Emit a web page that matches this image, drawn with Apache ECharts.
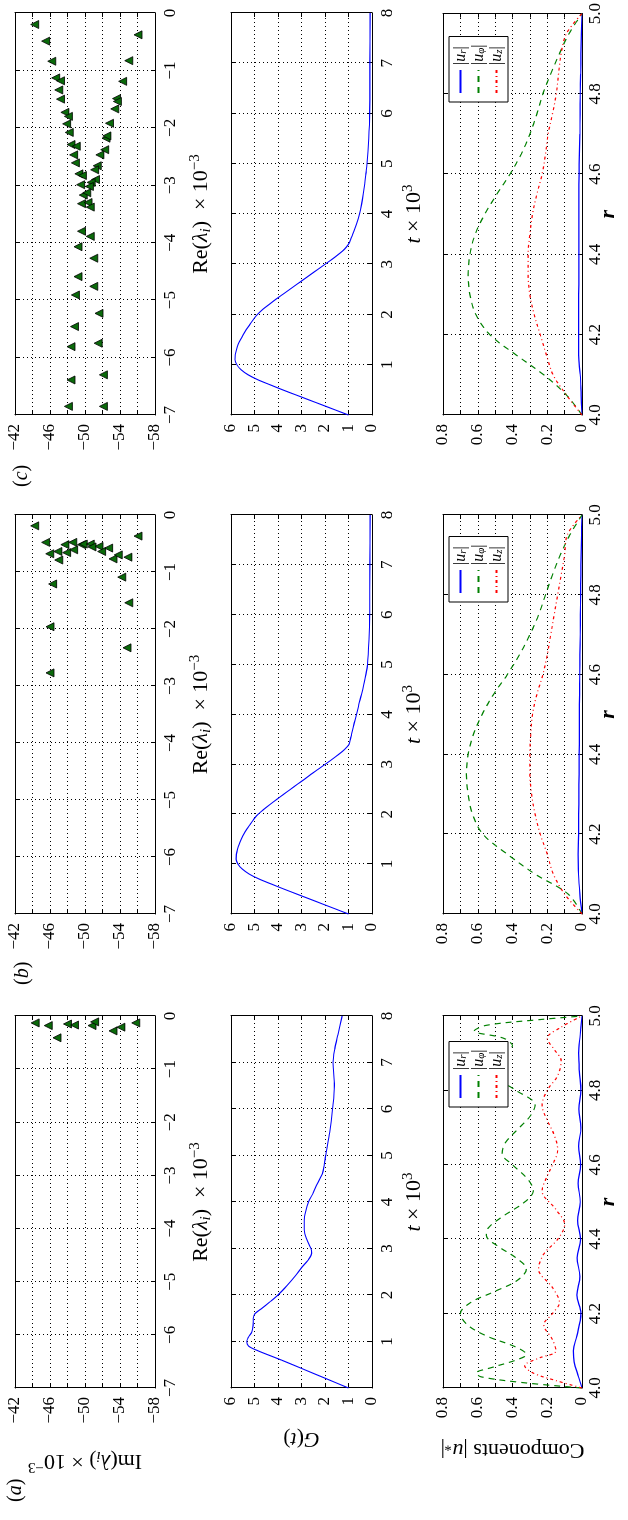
<!DOCTYPE html>
<html>
<head>
<meta charset="utf-8">
<script src="https://cdn.jsdelivr.net/npm/echarts@6.0.0/dist/echarts.min.js"></script>
<style>
  html, body { margin: 0; padding: 0; background: #fff; width: 628px; height: 1520px; overflow: hidden; }
  /* the figure is laid out landscape and turned a quarter turn onto the portrait page */
  #fig { position: absolute; left: 0; top: 0; width: 1520px; height: 628px;
         transform-origin: 0 0; transform: translate(0px, 1520px) rotate(-90deg); }
</style>
</head>
<body>
<div id="fig"></div>
<script>
// ---------- eigenvalue spectra: Re(lambda) x 1e-3, Im(lambda) x 1e-3 ----------
const reA = [-0.13, -0.18, -0.41, -0.15, -0.17, -0.18, -0.11, -0.28, -0.21, -0.13];
const imA = [-44.3, -45.8, -46.8, -48.0, -48.8, -50.8, -51.1, -53.2, -54.1, -55.8];

const reB = [-0.19, -0.48, -0.37, -0.68, -0.64, -0.79, -0.52, -0.66, -0.48, -0.61, -0.52, -0.51, -0.51,
             -0.56, -0.55, -0.64, -0.58, -0.77, -0.70, -0.74, -1.09, -1.21, -1.54, -1.96, -2.33, -2.77];
const imB = [-44.25, -45.5, -56.06, -45.97, -46.9, -47.0, -47.7, -47.9, -48.6, -48.7, -49.6, -49.8, -50.6,
             -50.8, -51.6, -51.9, -52.7, -53.2, -53.8, -54.9, -54.2, -46.3, -55.0, -46.0, -54.8, -46.0];

const reC = [-0.20, -0.49, -0.84, -1.13, -1.18, -1.34, -1.50, -1.73, -1.80, -1.93, -2.08, -2.29, -2.32, -2.47,
             -2.61, -2.80, -2.83, -2.99, -3.17, -3.32, -3.80, -4.07, -4.59, -4.91, -5.46, -5.81, -6.39, -6.85,
             -0.38, -0.83, -1.19, -1.49, -1.54, -1.67, -1.92, -2.18, -2.14, -2.38, -2.47, -2.66, -2.73, -2.90,
             -2.95, -3.02, -3.13, -3.30, -3.38, -3.89, -4.27, -4.76, -5.23, -5.75, -6.30, -6.85];
const imC = [-44.25, -45.5, -46.2, -46.65, -47.2, -47.0, -47.2, -47.7, -48.1, -47.9, -48.2, -48.4, -49.0, -48.7,
             -48.9, -49.3, -49.7, -49.5, -49.8, -49.6, -49.6, -49.2, -49.2, -48.9, -48.8, -48.4, -48.4, -48.1,
             -56.06, -55.0, -54.3, -53.6, -53.7, -53.4, -52.8, -52.4, -52.5, -52.25, -51.7, -51.4, -51.1, -51.2,
             -50.7, -50.5, -50.2, -50.35, -50.6, -50.6, -51.0, -51.0, -51.6, -51.5, -52.1, -52.1];

// ---------- energy growth G(t), t x 1e3 ----------
const tA = [0, 0.2, 0.4, 0.6, 0.8, 0.9, 1.0, 1.1, 1.2, 1.35, 1.5, 1.6, 1.7, 1.85, 2.0, 2.2, 2.4, 2.6, 2.75, 2.9,
            3.0, 3.2, 3.4, 3.6, 3.8, 4.0, 4.2, 4.4, 4.6, 4.8, 5.0, 5.5, 6.0, 6.5, 7.0, 7.3, 7.6, 8.0];
const gA = [1.0, 1.95, 2.9, 3.85, 4.85, 5.25, 5.33, 5.25, 5.12, 5.06, 5.05, 4.98, 4.72, 4.35, 4.0, 3.62, 3.28, 2.98,
            2.72, 2.57, 2.6, 2.78, 2.88, 2.88, 2.82, 2.7, 2.5, 2.32, 2.12, 2.03, 1.97, 1.8, 1.68, 1.6, 1.66, 1.58, 1.45, 1.27];

const tBC = [0, 0.1, 0.2, 0.3, 0.4, 0.5, 0.6, 0.7, 0.8, 0.9, 1.0, 1.1, 1.2, 1.3, 1.4, 1.5, 1.6, 1.7, 1.8, 1.9,
             2.0, 2.1, 2.2, 2.3, 2.4, 2.5, 2.6, 2.7, 2.8, 2.9, 3.0, 3.1, 3.2, 3.3, 3.4, 3.5, 3.6, 3.8, 4.0, 4.2,
             4.4, 4.6, 4.8, 5.0, 5.5, 6.0, 7.0, 8.0];
const gB = [1.0, 1.55, 2.1, 2.65, 3.2, 3.75, 4.28, 4.8, 5.22, 5.52, 5.7, 5.78, 5.77, 5.72, 5.65, 5.56, 5.46, 5.33,
            5.18, 5.03, 4.85, 4.6, 4.33, 4.05, 3.76, 3.47, 3.18, 2.88, 2.6, 2.3, 2.0, 1.7, 1.42, 1.16, 0.98, 0.92,
            0.87, 0.77, 0.66, 0.56, 0.45, 0.35, 0.26, 0.19, 0.13, 0.10, 0.09, 0.08];
const gC = [1.0, 1.56, 2.12, 2.68, 3.24, 3.8, 4.33, 4.85, 5.27, 5.57, 5.75, 5.83, 5.82, 5.77, 5.7, 5.6, 5.48, 5.35,
            5.2, 5.05, 4.88, 4.65, 4.38, 4.1, 3.8, 3.5, 3.2, 2.9, 2.6, 2.3, 2.0, 1.7, 1.42, 1.17, 1.0, 0.9,
            0.82, 0.66, 0.53, 0.44, 0.37, 0.31, 0.26, 0.21, 0.14, 0.10, 0.09, 0.08];

// ---------- velocity components |u_r|, |u_phi|, |u_z| across the gap ----------
const rUpA = [4.0, 4.015, 4.03, 4.04, 4.055, 4.075, 4.09, 4.11, 4.14, 4.17, 4.2, 4.23, 4.26, 4.29, 4.32, 4.35, 4.38,
              4.41, 4.43, 4.46, 4.5, 4.53, 4.56, 4.6, 4.63, 4.66, 4.7, 4.73, 4.76, 4.8, 4.84, 4.87, 4.9, 4.92,
              4.94, 4.96, 4.975, 4.99, 5.0];
const upA = [0, 0.35, 0.58, 0.61, 0.52, 0.38, 0.32, 0.38, 0.55, 0.66, 0.70, 0.64, 0.50, 0.37, 0.32, 0.38, 0.48,
             0.55, 0.54, 0.46, 0.33, 0.28, 0.31, 0.40, 0.46, 0.44, 0.36, 0.30, 0.27, 0.38, 0.52, 0.58, 0.50, 0.40,
             0.45, 0.62, 0.55, 0.25, 0];
const rUzA = [4.0, 4.02, 4.04, 4.06, 4.08, 4.1, 4.13, 4.17, 4.2, 4.23, 4.27, 4.32, 4.36, 4.4, 4.44, 4.48, 4.53,
              4.57, 4.6, 4.64, 4.68, 4.72, 4.76, 4.8, 4.84, 4.88, 4.91, 4.94, 4.97, 5.0];
const uzA = [0, 0.15, 0.28, 0.33, 0.25, 0.15, 0.17, 0.22, 0.17, 0.13, 0.17, 0.25, 0.22, 0.14, 0.10, 0.15, 0.23,
             0.2, 0.17, 0.14, 0.16, 0.2, 0.23, 0.2, 0.14, 0.12, 0.16, 0.2, 0.12, 0];
const rUrA = [4.0, 4.03, 4.07, 4.1, 4.14, 4.2, 4.25, 4.3, 4.35, 4.4, 4.45, 4.5, 4.55, 4.6, 4.65, 4.7, 4.75,
              4.8, 4.85, 4.9, 4.95, 5.0];
const urA = [0, 0.02, 0.045, 0.05, 0.03, 0.006, 0.03, 0.012, 0.028, 0.008, 0.025, 0.01, 0.022, 0.008, 0.02,
             0.006, 0.018, 0.006, 0.015, 0.02, 0.01, 0];

const rBC = [4.0, 4.05, 4.1, 4.15, 4.2, 4.25, 4.3, 4.35, 4.4, 4.45, 4.5, 4.55, 4.6, 4.65, 4.7, 4.75, 4.8, 4.85,
             4.9, 4.95, 5.0];
const urB = [0, 0.012, 0.02, 0.022, 0.02, 0.019, 0.018, 0.017, 0.016, 0.015, 0.015, 0.014, 0.013, 0.012, 0.01,
             0.009, 0.008, 0.007, 0.005, 0.003, 0];
const upB = [0, 0.08, 0.27, 0.43, 0.57, 0.63, 0.655, 0.665, 0.655, 0.625, 0.575, 0.51, 0.43, 0.36, 0.30, 0.25,
             0.21, 0.17, 0.125, 0.07, 0];
const uzB = [0, 0.10, 0.165, 0.2, 0.24, 0.27, 0.29, 0.30, 0.30, 0.295, 0.285, 0.26, 0.225, 0.20, 0.18, 0.16,
             0.14, 0.12, 0.10, 0.085, 0];
const urC = [0, 0.005, 0.01, 0.02, 0.02, 0.019, 0.019, 0.018, 0.018, 0.018, 0.018, 0.018, 0.017, 0.015, 0.012,
             0.011, 0.01, 0.008, 0.006, 0.004, 0];
const upC = [0, 0.09, 0.22, 0.38, 0.53, 0.61, 0.645, 0.655, 0.645, 0.615, 0.56, 0.49, 0.415, 0.35, 0.30, 0.26,
             0.225, 0.18, 0.13, 0.075, 0];
const uzC = [0, 0.09, 0.166, 0.205, 0.24, 0.275, 0.30, 0.31, 0.31, 0.30, 0.285, 0.26, 0.23, 0.21, 0.195, 0.17,
             0.148, 0.135, 0.12, 0.09, 0];

// ---------- tick values and labels ----------
const reTicks = { min: -7, max: 0, step: 1 };
const imTicks = { min: -58, max: -42, step: 2, labelEvery: 4 };
const tTicks = { min: 0, max: 8, step: 1 };
const gTicks = { min: 0, max: 6, step: 1 };
const rTicks = { min: 4.0, max: 5.0, step: 0.2 };
const uTicks = { min: 0, max: 0.8, step: 0.1 };
const panelLetters = ['a', 'b', 'c'];
const compNames = ['ur', 'uphi', 'uz'];
const compLegend = { ur: '|{it|u}{sub|r}|', uphi: '|{it|u}{sub|φ}|', uz: '|{it|u}{sub|z}|' };

// ---------- layout ----------
const FONT = '"Liberation Serif", "Times New Roman", serif';
const TICK_FS = 17, NAME_FS = 22;
const cols = [{ left: 132, width: 372 }, { left: 606, width: 399 }, { left: 1105, width: 402 }];
const rows = [{ top: 15, height: 140 }, { top: 231, height: 141 }, { top: 443, height: 139 }];

function rich(fs, lh) {
  lh = lh || fs + 4;
  return {
    it: { fontFamily: FONT, fontSize: fs, fontStyle: 'italic', lineHeight: lh, color: '#000' },
    bi: { fontFamily: FONT, fontSize: fs, fontStyle: 'italic', fontWeight: 'bold', lineHeight: lh, color: '#000' },
    sub: { fontFamily: FONT, fontSize: Math.round(fs * 0.66), fontStyle: 'italic', lineHeight: Math.round(fs * 0.62),
           verticalAlign: 'bottom', color: '#000' },
    sup: { fontFamily: FONT, fontSize: Math.round(fs * 0.66), lineHeight: Math.round(fs * 0.62),
           verticalAlign: 'top', color: '#000' }
  };
}
function nameStyle(fs) {
  return { fontFamily: FONT, fontSize: fs, lineHeight: fs + 4, color: '#000', rich: rich(fs) };
}
const minus = v => (v < 0 ? '\u2212' + Math.abs(v) : String(v));
const zip = (a, b) => a.map((v, i) => [v, b[i]]);

const rowAxes = [
  { x: reTicks, y: imTicks,
    xFmt: v => minus(Math.round(v)),
    yFmt: v => ((Math.round(v) - imTicks.max) % imTicks.labelEvery === 0 ? minus(Math.round(v)) : ''),
    xName: 'Re({it|λ}{sub|i})  × 10{sup|−3}', xGap: 33,
    yName: 'Im({it|λ}{sub|i}) × 10{sup|−3}', yGap: 60 },
  { x: tTicks, y: gTicks,
    xFmt: v => (v === 0 ? '' : String(Math.round(v))),
    yFmt: v => String(Math.round(v)),
    xName: '{it|t} × 10{sup|3}', xGap: 29,
    yName: '{it|G}({it|t})', yGap: 38 },
  { x: rTicks, y: uTicks,
    xFmt: v => v.toFixed(1),
    yFmt: v => { const k = Math.round(v * 10); return k % 2 === 0 ? (k === 0 ? '0' : (k / 10).toFixed(1)) : ''; },
    xName: '{bi|r}', xGap: 13,
    yName: 'Components |{it|u}{sub|*}|', yGap: 49 }
];

const grid = [], xAxis = [], yAxis = [], series = [];
const lineAxis = { show: true, onZero: false, lineStyle: { color: '#000', width: 1 } };
const tick = { show: true, inside: true, length: 4, lineStyle: { color: '#000', width: 1 } };
const dotted = { show: true, lineStyle: { color: '#000', width: 1, type: [1, 3] } };

for (let r = 0; r < 3; r++) {
  for (let c = 0; c < 3; c++) {
    const g = r * 3 + c;
    const A = rowAxes[r];
    grid.push({ left: cols[c].left, top: rows[r].top, width: cols[c].width, height: rows[r].height,
                containLabel: false, show: false });
    const xBase = { type: 'value', gridIndex: g, min: A.x.min, max: A.x.max, interval: A.x.step,
                    axisLine: lineAxis, axisTick: tick };
    const yBase = { type: 'value', gridIndex: g, min: A.y.min, max: A.y.max, interval: A.y.step,
                    axisLine: lineAxis, axisTick: tick };
    xAxis.push(Object.assign({}, xBase, {
      position: 'bottom', splitLine: dotted,
      axisLabel: { color: '#000', fontFamily: FONT, fontSize: TICK_FS, margin: r === 2 ? 5 : 7, formatter: A.xFmt,
                   showMinLabel: true, showMaxLabel: true, hideOverlap: false },
      name: A.xName, nameLocation: 'middle', nameGap: A.xGap, nameMoveOverlap: false, nameTextStyle: nameStyle(NAME_FS)
    }));
    xAxis.push(Object.assign({}, xBase, { position: 'top', splitLine: { show: false }, axisLabel: { show: false } }));
    const yMain = Object.assign({}, yBase, {
      position: 'left', splitLine: dotted,
      axisLabel: { color: '#000', fontFamily: FONT, fontSize: TICK_FS, margin: 9, formatter: A.yFmt,
                   showMinLabel: true, showMaxLabel: true, hideOverlap: false }
    });
    if (c === 0) {
      Object.assign(yMain, { name: A.yName, nameLocation: 'middle', nameGap: A.yGap, nameMoveOverlap: false,
                             nameTextStyle: nameStyle(NAME_FS) });
    }
    yAxis.push(yMain);
    yAxis.push(Object.assign({}, yBase, { position: 'right', splitLine: { show: false }, axisLabel: { show: false } }));
  }
}

// spectra (row 0)
const spectra = [[reA, imA], [reB, imB], [reC, imC]];
spectra.forEach((s, c) => {
  series.push({ type: 'scatter', name: 'spectrum-' + panelLetters[c], xAxisIndex: 2 * c, yAxisIndex: 2 * c,
    data: zip(s[0], s[1]), symbol: 'triangle', symbolSize: 8,
    itemStyle: { color: '#0a6a0a', borderColor: '#000', borderWidth: 0.8, opacity: 1 } });
});

// energy growth (row 1)
const growth = [[tA, gA], [tBC, gB], [tBC, gC]];
growth.forEach((s, c) => {
  const g = 3 + c;
  series.push({ type: 'line', name: 'G-' + panelLetters[c], xAxisIndex: 2 * g, yAxisIndex: 2 * g,
    data: zip(s[0], s[1]), symbol: 'none', showSymbol: false, smooth: 0.3,
    lineStyle: { color: '#0000ff', width: 1.1 } });
});

// velocity components (row 2)
const comps = [
  [zip(rUrA, urA), zip(rUpA, upA), zip(rUzA, uzA)],
  [zip(rBC, urB), zip(rBC, upB), zip(rBC, uzB)],
  [zip(rBC, urC), zip(rBC, upC), zip(rBC, uzC)]
];
const compStyle = {
  ur: { color: '#0000ff', width: 1.2, type: 'solid' },
  uphi: { color: '#008000', width: 1.2, type: [6, 5] },
  uz: { color: '#ff0000', width: 1.2, type: [3, 3, 1, 3] }
};
comps.forEach((set, c) => {
  const g = 6 + c;
  set.forEach((d, k) => {
    const nm = compNames[k];
    series.push({ type: 'line', name: nm, xAxisIndex: 2 * g, yAxisIndex: 2 * g, data: d,
      symbol: 'none', showSymbol: false, smooth: 0.35, lineStyle: compStyle[nm], itemStyle: { color: compStyle[nm].color } });
  });
});

const legendLeft = [413, 918, 1418];
const legend = legendLeft.map(left => ({
  orient: 'vertical', left: left, top: 449, itemWidth: 23, itemHeight: 12, itemGap: 1,
  padding: [3, 8, 3, 8], borderColor: '#000', borderWidth: 1, backgroundColor: '#fff',
  itemStyle: { opacity: 0, borderWidth: 0 },
  selectedMode: false, data: compNames.slice(), formatter: n => compLegend[n],
  textStyle: { fontFamily: FONT, fontSize: 16, color: '#000', lineHeight: 17, rich: rich(16, 17) }
}));

const titleTop = [4, 11, 10];
const titleLeft = [18, 535, 1033];
const title = panelLetters.map((l, i) => ({
  text: '({it|' + l + '})', left: titleLeft[i], top: titleTop[i], padding: 0,
  textStyle: { fontFamily: FONT, fontSize: 20, fontWeight: 'normal', color: '#000', lineHeight: 22, rich: rich(20) }
}));

const chart = echarts.init(document.getElementById('fig'), null, { renderer: 'canvas' });
chart.setOption({ animation: false, backgroundColor: '#fff', title, legend, grid, xAxis, yAxis, series });
</script>
</body>
</html>
